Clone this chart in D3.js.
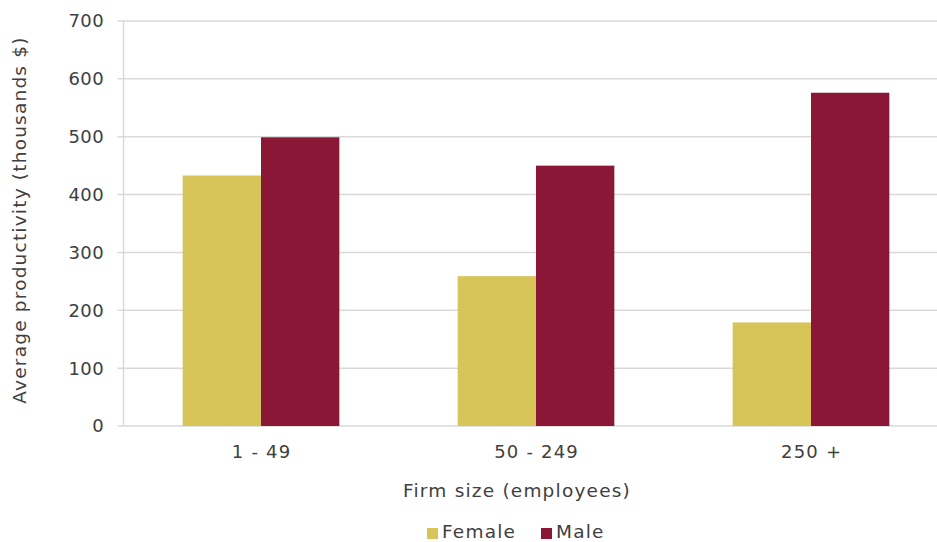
<!DOCTYPE html>
<html><head><meta charset="utf-8">
<script src="https://cdn.jsdelivr.net/npm/d3@7"></script>
<style>
html,body{margin:0;padding:0;background:#fff;}
svg{display:block;}
text{font-family:"DejaVu Sans",sans-serif;fill:#404040;letter-spacing:0.4px;}
text.title{letter-spacing:1.2px;}
</style></head>
<body><svg id="chart" width="937" height="542"></svg>
<script>
const categories = ["1 - 49", "50 - 249", "250 +"];
const seriesNames = ["Female", "Male"];
const femaleValues = [433, 259, 179];
const maleValues = [499, 450, 576];
const yTicks = [0, 100, 200, 300, 400, 500, 600, 700];
const colors = ["#D8C55A", "#8A1736"];
const FS = 18;
const TFS = 18.5;

const svg = d3.select("#chart");
const margin = {left: 123.5, top: 21, bottom: 426};
const plotRight = 948.5;

const x = d3.scaleBand().domain(categories).range([margin.left, plotRight]).paddingInner(0).paddingOuter(0);
const inner = d3.scaleBand().domain(seriesNames).range([0, x.bandwidth()]).paddingInner(0).paddingOuter(0.755);
const y = d3.scaleLinear().domain([0, 700]).range([margin.bottom, margin.top]);

// gridlines
svg.append("g").selectAll("line").data(yTicks).join("line")
  .attr("x1", margin.left - 6).attr("x2", 937)
  .attr("y1", d => y(d)).attr("y2", d => y(d))
  .attr("stroke", "#d9d9d9").attr("stroke-width", 1.5);
// y axis line
svg.append("line").attr("x1", margin.left).attr("x2", margin.left)
  .attr("y1", margin.top).attr("y2", margin.bottom)
  .attr("stroke", "#d9d9d9").attr("stroke-width", 1.5);

// y tick labels
svg.append("g").selectAll("text").data(yTicks).join("text")
  .attr("x", 104).attr("y", d => y(d)).attr("dy", "0.36em")
  .attr("text-anchor", "end").attr("font-size", FS).text(d => d);

const data = categories.map((c, i) => ({cat: c, vals: [femaleValues[i], maleValues[i]]}));
const groups = svg.append("g").selectAll("g").data(data).join("g")
  .attr("transform", d => `translate(${x(d.cat)},0)`);
groups.selectAll("rect").data(d => d.vals.map((v, j) => ({s: seriesNames[j], v, j}))).join("rect")
  .attr("x", d => inner(d.s)).attr("width", inner.bandwidth())
  .attr("y", d => y(d.v)).attr("height", d => y(0) - y(d.v))
  .attr("fill", d => colors[d.j]);

// x labels
svg.append("g").selectAll("text").data(categories).join("text")
  .attr("class", "title")
  .attr("x", d => x(d) + x.bandwidth() / 2 + 0.6).attr("y", 452).attr("dy", "0.36em")
  .attr("text-anchor", "middle").attr("font-size", FS).text(d => d);

// axis titles
svg.append("text").attr("class", "title").attr("x", 517).attr("y", 490).attr("dy", "0.36em")
  .attr("text-anchor", "middle").attr("font-size", TFS).text("Firm size (employees)");
svg.append("text").attr("class", "title").attr("transform", "translate(19,220) rotate(-90)").attr("dy", "0.36em")
  .attr("text-anchor", "middle").attr("font-size", TFS).text("Average productivity (thousands $)");

// legend
const legend = svg.append("g");
const legendX = [427, 541];
seriesNames.forEach((s, i) => {
  legend.append("rect").attr("x", legendX[i]).attr("y", 528).attr("width", 11).attr("height", 11).attr("fill", colors[i]);
  legend.append("text").attr("class", "title").attr("x", legendX[i] + 15).attr("y", 538)
    .attr("font-size", TFS).text(s);
});
</script></body></html>
